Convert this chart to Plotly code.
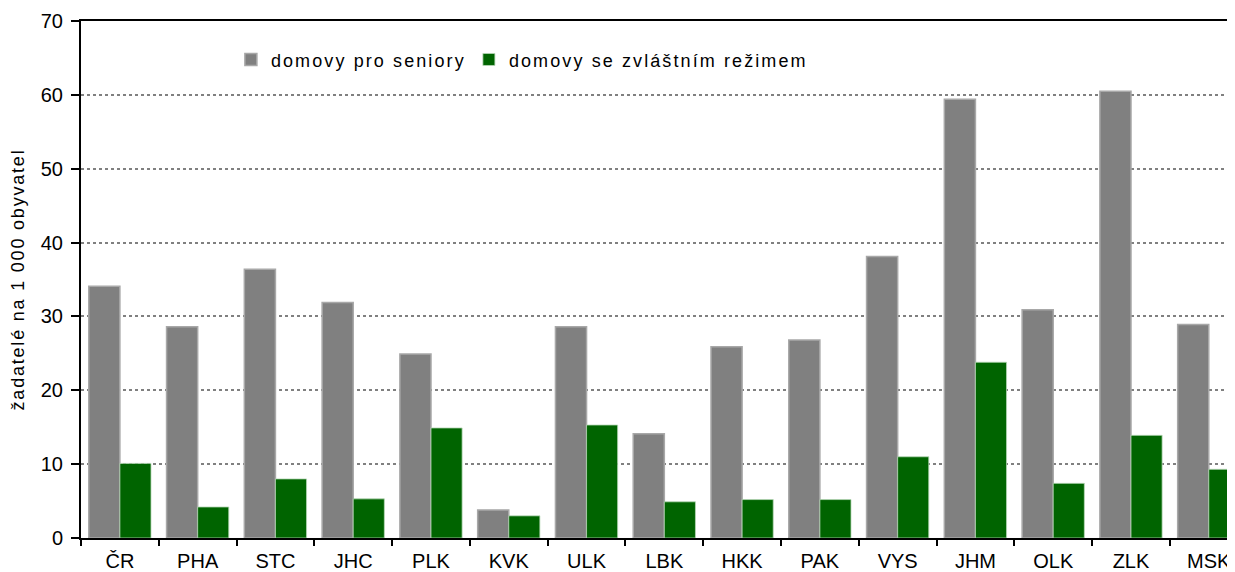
import plotly.graph_objects as go

categories = ["ČR", "PHA", "STC", "JHC", "PLK", "KVK", "ULK", "LBK", "HKK", "PAK", "VYS", "JHM", "OLK", "ZLK", "MSK"]
seniors = [34.1, 28.6, 36.4, 31.9, 24.9, 3.8, 28.6, 14.1, 25.9, 26.8, 38.1, 59.4, 30.9, 60.5, 28.9]
special = [10.1, 4.2, 8.0, 5.3, 14.9, 3.0, 15.3, 4.9, 5.2, 5.2, 11.0, 23.8, 7.4, 13.9, 9.3]
y_ticks = [0, 10, 20, 30, 40, 50, 60, 70]

FONT = "Liberation Sans, Arial, sans-serif"

fig = go.Figure()
fig.add_trace(go.Bar(
    x=categories, y=seniors, name="domovy pro seniory",
    marker=dict(color="#808080", line=dict(color="#a8a8a8", width=1.5)),
))
fig.add_trace(go.Bar(
    x=categories, y=special, name="domovy se zvláštním režimem",
    marker=dict(color="#006400", line=dict(color="#b8d8b8", width=0.8)),
))

fig.update_layout(
    width=1235, height=572,
    margin=dict(l=73, r=0, t=13, b=42, autoexpand=False),
    paper_bgcolor="white", plot_bgcolor="white",
    barmode="group", bargap=0.2, bargroupgap=0,
    font=dict(family=FONT, size=20, color="black"),
    showlegend=True,
    legend=dict(
        orientation="h", x=0.129, y=0.925, xanchor="left", yanchor="middle",
        font=dict(family=FONT, size=18, color="black"),
        bgcolor="rgba(0,0,0,0)", itemwidth=30, tracegroupgap=0,
        entrywidth=193, entrywidthmode="pixels",
    ),
)
fig.update_xaxes(
    range=[-0.5, 14.44], showline=True, linecolor="black", linewidth=2,
    mirror=True, ticks="outside", tickson="boundaries", ticklen=6, tickwidth=2,
    tickcolor="black", showgrid=False, tickfont=dict(size=20), automargin=False,
    ticklabelstandoff=4,
)
fig.update_yaxes(
    range=[0, 70], tickvals=y_ticks, showline=True, linecolor="black", linewidth=2,
    ticks="outside", ticklen=8, tickwidth=2, tickcolor="black",
    showgrid=True, gridcolor="#808080", griddash="dot", gridwidth=1.5,
    zeroline=False, tickfont=dict(size=20), automargin=False, ticklabelstandoff=4,
    title=dict(text="žadatelé na 1 000 obyvatel", font=dict(size=18), standoff=14),
)

post_script = """
var gd = document.getElementById('{plot_id}');
gd.querySelectorAll('.ytitle').forEach(function(e){ e.setAttribute('letter-spacing', '1.8px'); });
gd.querySelectorAll('.legendtext').forEach(function(e){ e.setAttribute('letter-spacing', '2.1px'); });
gd.querySelectorAll('.legend .scrollbox, .legend .groups, .legend g').forEach(function(e){ e.removeAttribute('clip-path'); });
"""

fig.write_html("out.html", post_script=post_script)
